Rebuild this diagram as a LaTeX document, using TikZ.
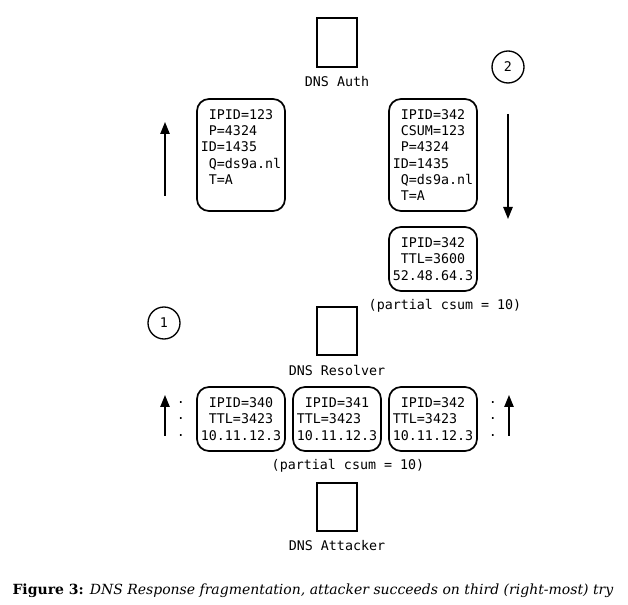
\documentclass[tikz,border=0pt]{standalone}
\usepackage{fontspec}
\setmainfont{DejaVu Serif}
\setmonofont{DejaVu Sans Mono}
\usepackage{tikz}
\usetikzlibrary{positioning,arrows.meta}
\usepackage{xcolor}
\newcommand{\ind}{\hphantom{0}}

\begin{document}
\begin{tikzpicture}[x=0.75pt,y=-0.75pt,
  font=\ttfamily\fontsize{10}{12.2}\selectfont,
  host/.style={draw,line width=1.3pt,minimum width=30pt,minimum height=36.5pt,inner sep=0pt},
  packet/.style={draw,line width=1.3pt,rounded corners=9pt,minimum width=66pt,inner sep=0pt,align=left},
  tall/.style={packet,minimum height=84pt},
  short/.style={packet,minimum height=48pt},
  stepmark/.style={draw,circle,line width=1pt,minimum size=24pt,inner sep=0pt},
  flow/.style={line width=1.1pt,-{Triangle[length=9pt,width=7pt]}}]
\useasboundingbox (0,0) rectangle (628,605);
% hosts
\node[host] (auth) at (337,42.5) {};
\node (authlbl) at (337,82) {DNS Auth};
\node[host] (resolver) at (337,331) {};
\node (resolverlbl) at (337,370) {DNS Resolver};
\node[host] (attacker) at (337,507) {};
\node (attackerlbl) at (337,546) {DNS Attacker};
% query and response
\node[tall] (query) at (241,155) {\ind IPID=123\\ \ind P=4324\\ ID=1435\\ \ind Q=ds9a.nl\\ \ind T=A\\ \mbox{}};
\node[tall] (answer) at (433,155) {\ind IPID=342\\ \ind CSUM=123\\ \ind P=4324\\ ID=1435\\ \ind Q=ds9a.nl\\ \ind T=A};
\node[short] (frag) at (433,259) {\ind IPID=342\\ \ind TTL=3600\\ 52.48.64.3};
\node (csumtop) at (445,306) {(partial csum = 10)};
% spoofed fragments
\node[short] (spoofa) at (241,419) {\ind IPID=340\\ \ind TTL=3423\\ 10.11.12.3};
\node[short] (spoofb) at (337,419) {\ind IPID=341\\ TTL=3423\\ 10.11.12.3};
\node[short] (spoofc) at (433,419) {\ind IPID=342\\ TTL=3423\\ 10.11.12.3};
\node (csumbot) at (348,466) {(partial csum = 10)};
\node[align=center] (dotsl) at (181,419) {.\\.\\.};
\node[align=center] (dotsr) at (493,419) {.\\.\\.};
% steps
\node[stepmark] (one) at (164,323) {1};
\node[stepmark] (two) at (508,67) {2};
% arrows
\coordinate (upa) at (165,196);
\coordinate (upb) at (165,122);
\coordinate (downa) at (508,114);
\coordinate (downb) at (508,219);
\coordinate (lefta) at (165,436);
\coordinate (leftb) at (165,395);
\coordinate (righta) at (509,436);
\coordinate (rightb) at (509,395);
\draw[flow] (upa) -- (upb);
\draw[flow] (downa) -- (downb);
\draw[flow] (lefta) -- (leftb);
\draw[flow] (righta) -- (rightb);
% caption
\node[font=\rmfamily\fontsize{10.5}{12}\selectfont] (caption) at (313,591) {\textbf{Figure 3:} \textit{DNS Response fragmentation, attacker succeeds on third (right-most) try}};
\end{tikzpicture}
\end{document}
